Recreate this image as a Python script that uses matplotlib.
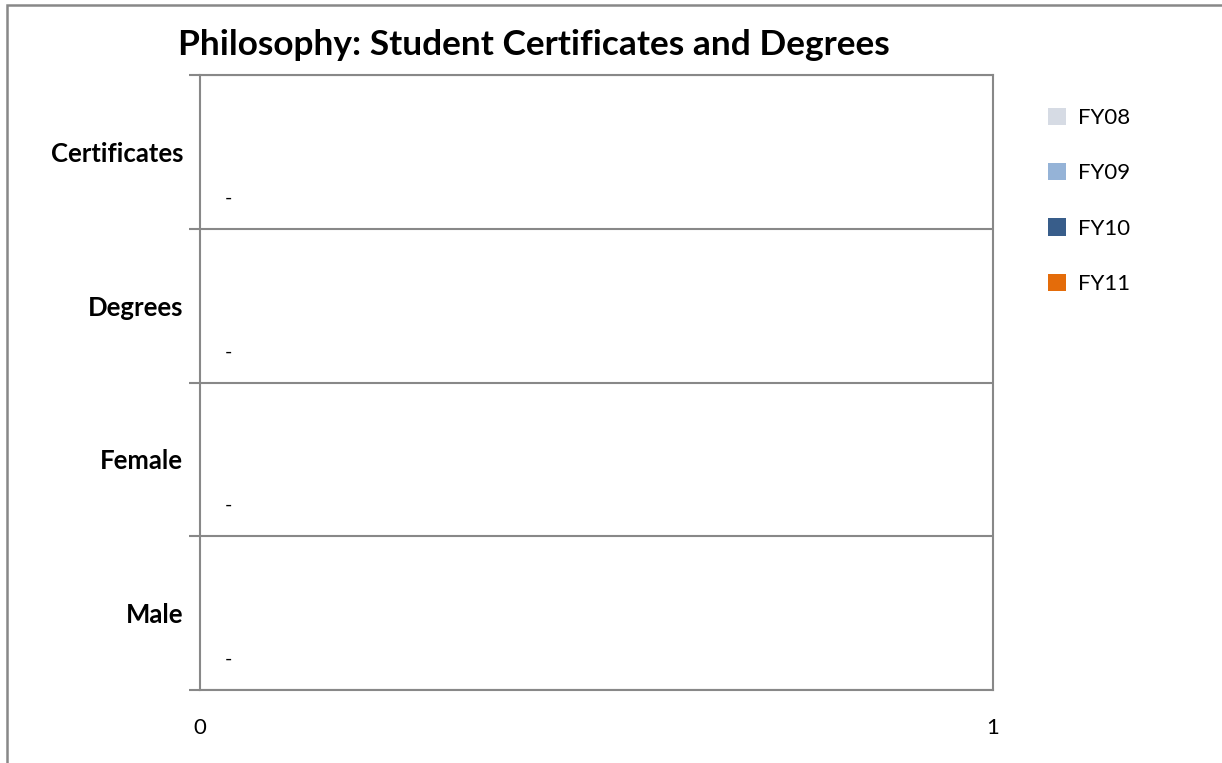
import matplotlib
matplotlib.use("Agg")
from matplotlib import pyplot as plt
from matplotlib.patches import Rectangle
import numpy as np

plt.rcParams['font.family'] = ['Lato', 'DejaVu Sans']

# data (every value is zero / shown as "-")
categories = ["Certificates", "Degrees", "Female", "Male"]
series_names = ["FY08", "FY09", "FY10", "FY11"]
fy08 = [0, 0, 0, 0]
fy09 = [0, 0, 0, 0]
fy10 = [0, 0, 0, 0]
fy11 = [0, 0, 0, 0]
series_colors = ["#d6dbe4", "#95b3d7", "#385d8a", "#e46c0a"]
x_ticks = [0, 1]

W, H = 1222, 763
fig = plt.figure(figsize=(W / 100, H / 100), dpi=100)
ax = fig.add_axes([200 / W, 1 - 690 / H, (993 - 200) / W, (690 - 75) / H])

y = np.arange(len(categories))
h = 0.2
offsets = [0.3, 0.1, -0.1, -0.3]
bars = []
for vals, name, col, off in zip([fy08, fy09, fy10, fy11], series_names, series_colors, offsets):
    b = ax.barh(y + off, vals, height=h, color=col, label=name)
    bars.append(b)

ax.bar_label(bars[0], labels=["-"] * len(categories), padding=18, fontsize=14)

ax.set_ylim(len(categories) - 0.5, -0.5)
ax.set_xlim(0, 1)

# boundaries as major ticks, labels on minor ticks at centres
ax.set_yticks(np.arange(len(categories) + 1) - 0.5)
ax.set_yticklabels([])
ax.set_yticks(y, minor=True)
ax.set_yticklabels(categories, minor=True, fontsize=18.5, fontweight="bold")
ax.tick_params(axis="y", which="major", length=8, width=1.5, color="#888888", direction="out")
ax.tick_params(axis="y", which="minor", length=0, pad=12)
ax.grid(axis="y", which="major", color="#888888", linewidth=1.5)
ax.set_axisbelow(True)

ax.set_xticks(x_ticks)
ax.set_xticklabels([str(t) for t in x_ticks], fontsize=16)
ax.tick_params(axis="x", length=0, pad=20)

for s in ax.spines.values():
    s.set_color("#888888")
    s.set_linewidth(1.5)

fig.text(178 / W, 1 - 45 / H, "Philosophy: Student Certificates and Degrees",
         fontsize=25.4, fontweight="bold", ha="left", va="center")

fig.legend(handles=bars, labels=series_names, loc="upper left",
           bbox_to_anchor=(1028 / W, 1 - 88 / H), frameon=False, fontsize=16,
           handlelength=0.81, handleheight=0.81, handletextpad=0.54, labelspacing=1.57)

# outer chart border (only top and left visible)
fig.patches.append(Rectangle((7 / W, -0.1), 1.2, 1 - 5 / H + 0.1, transform=fig.transFigure,
                             fill=False, edgecolor="#888888", linewidth=1.8))

fig.savefig("out.png", dpi=100)
